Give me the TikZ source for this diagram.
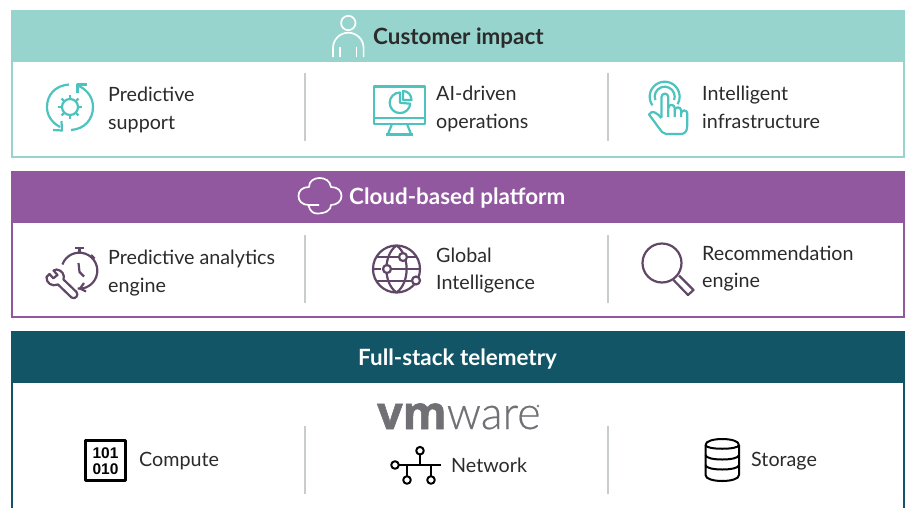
\documentclass[tikz,border=0pt]{standalone}
\usepackage{fontspec}
\setmainfont{Lato}
\newfontfamily\logofont{Open Sans}
\newfontfamily\logolight{Lato Light}
\newfontfamily\bitfont{Liberation Sans}
\usetikzlibrary{arrows.meta}
\definecolor{tealhead}{HTML}{97D4CD}
\definecolor{purphead}{HTML}{91589F}
\definecolor{darkhead}{HTML}{115566}
\definecolor{iconteal}{HTML}{4CC3BF}
\definecolor{iconpurp}{HTML}{614767}
\definecolor{divgrey}{HTML}{C8CDCC}
\definecolor{inktext}{HTML}{2B2B2B}
\definecolor{vmgrey}{HTML}{717074}
\tikzset{
  x=1pt,y=-1pt,
  panel/.style={draw,line width=2pt,fill=white},
  divider/.style={draw=divgrey,line width=2.4pt},
  lbl/.style={anchor=base west,inner sep=0pt,text=inktext,font=\fontsize{19.7}{20}\selectfont},
  ttl/.style={anchor=base west,inner sep=0pt,font=\fontsize{22.4}{22}\bfseries\selectfont},
  tealicon/.style={draw=iconteal,line width=2.2pt,line join=round,fill=none},
  purpicon/.style={draw=iconpurp,line width=2.2pt,line join=round,fill=none},
  blackicon/.style={draw=black,line width=2pt,line join=round,fill=none},
  whiteicon/.style={draw=white,line width=1.7pt,line join=round,fill=none},
  bits/.style={inner sep=0pt,anchor=base,font=\bitfont\fontsize{15.5}{16}\bfseries\selectfont},
}
\begin{document}
\begin{tikzpicture}
\useasboundingbox (0,0) rectangle (906,507);
% panels
\draw[panel,draw=tealhead] (12,40) rectangle (904,156.5);
\fill[tealhead] (11,10) rectangle (905,62);
\draw[panel,draw=purphead] (12,200) rectangle (904,316.5);
\fill[purphead] (11,171) rectangle (905,223);
\draw[panel,draw=darkhead] (12,360) rectangle (904,520);
\fill[darkhead] (11,331) rectangle (905,383);
% dividers
\foreach \xx in {305,608}{
  \draw[divider] (\xx,73) -- (\xx,141);
  \draw[divider] (\xx,235) -- (\xx,303);
  \draw[divider] (\xx,426) -- (\xx,494);
}
% titles
\node[ttl,text=inktext] (t1) at (373,44) {Customer impact};
\node[ttl,text=white] (t2) at (349,204) {Cloud-based platform};
\node[ttl,text=white] (t3) at (358,365) {Full-stack telemetry};
% labels
\node[lbl] (a1) at (108,101) {Predictive};
\node[lbl] (a2) at (108,129) {support};
\node[lbl] (b1) at (436,100) {AI-driven};
\node[lbl] (b2) at (436,128) {operations};
\node[lbl] (c1) at (702,100) {Intelligent};
\node[lbl] (c2) at (702,128) {infrastructure};
\node[lbl] (d1) at (108,264) {Predictive analytics};
\node[lbl] (d2) at (108,292) {engine};
\node[lbl] (e1) at (436,262) {Global};
\node[lbl] (e2) at (436,289) {Intelligence};
\node[lbl] (f1) at (702,260) {Recommendation};
\node[lbl] (f2) at (702,287) {engine};
\node[lbl] (g1) at (139,466) {Compute};
\node[lbl] (g2) at (451,472) {Network};
\node[lbl] (g3) at (751,466) {Storage};
% person
\draw[whiteicon] (348.3,23) circle (7.2);
\draw[whiteicon] (333,57) -- (333,48) arc[start angle=-180,end angle=0,radius=15.3] -- (363.6,57);
\draw[whiteicon] (340,47) -- (340,57) (356.5,47) -- (356.5,57);
% cloud
\draw[whiteicon] (319,205) -- (309,205)
  .. controls (302,205) and (298.5,201) .. (298.5,196)
  .. controls (298.5,191) and (302,187) .. (309,187)
  .. controls (309,181) and (314,178) .. (319.5,178)
  .. controls (325.5,178) and (330,181) .. (331,187)
  .. controls (338,187) and (341.5,191) .. (341.5,196)
  .. controls (341.5,201) and (337,205) .. (331,205)
  .. controls (331,210) and (326,213.5) .. (317,213.5)
  .. controls (313,213.5) and (310,211) .. (308.5,205.5);
% support icon
\begin{scope}
  \draw[tealicon] (69,84.5) .. controls (55,85.5) and (47,95) .. (47,107) .. controls (47,115) and (51,122) .. (60,127);
  \draw[tealicon] (53,130) -- (62,130.5) -- (61.5,121);
  \draw[tealicon] (71,130) .. controls (85,129) and (93,119) .. (93,107) .. controls (93,99) and (89,91) .. (79,86);
  \draw[tealicon] (87,84.5) -- (77.5,84.5) -- (77.5,93);
  \draw[tealicon] (70,107) circle (8);
  \foreach \a in {0,45,...,315}{
    \draw[tealicon] ([shift={(\a:8)}]70,107) -- ([shift={(\a:12)}]70,107);
  }
\end{scope}
% monitor
\draw[tealicon] (374,86.5) rectangle (425,124);
\draw[tealicon] (374,118) -- (425,118);
\draw[tealicon] (392,124) -- (388,134) (407,124) -- (411,134);
\draw[tealicon] (386,134.5) -- (413,134.5);
\draw[tealicon] (400,92.5) arc[start angle=-90,end angle=-355,radius=10.3] -- (400,102.8) -- cycle;
\draw[tealicon] (403,91) .. controls (408,91) and (411.5,95) .. (411.5,100) -- (403,100) -- cycle;
% hand
\draw[tealicon] (652.4,105.3) arc[start angle=-215,end angle=30,radius=15];
\draw[tealicon] (655.3,100.1) arc[start angle=-200,end angle=20,radius=10];
\draw[tealicon] (661.5,117.5) -- (661.5,97) arc[start angle=-180,end angle=0,radius=3.4] -- (668.3,117);
\draw[tealicon] (668.3,108) arc[start angle=-180,end angle=0,radius=3.2] -- (674.7,117);
\draw[tealicon] (674.7,110.5) arc[start angle=-180,end angle=0,radius=3.2] -- (681.1,117);
\draw[tealicon] (681.1,113.5) arc[start angle=-180,end angle=0,radius=3.1] -- (687.3,125)
     .. controls (687.3,131) and (685,134) .. (681,134) -- (666,134) -- (662,132) -- (649,114.5)
     .. controls (652,110) and (656,112) .. (661.5,118);
% stopwatch with wrench
\draw[purpicon] (62.4,264.5) arc[start angle=-160,end angle=95,radius=18];
\draw[purpicon] (75,248) -- (84,248) (79.5,248) -- (79.5,252.5);
\draw[purpicon] (91,255) -- (94.5,258.5);
\draw[purpicon] (78.5,263) -- (79.5,272) -- (84,276.5);
\draw[purpicon] (84,283) -- (80,288.5) -- (86,291.5);
\draw[purpicon] (56.5,269.5)
   .. controls (62,270) and (65,275) .. (63.5,279.5)
   -- (76.5,292) .. controls (79,295) and (75.5,300) .. (71.5,297.5)
   -- (58,284.5) .. controls (52,287) and (46,283) .. (46.5,277)
   -- (49.5,274) -- (53.3,278.3) -- (57.5,275) -- (53.5,270.5) -- cycle;
% globe
\draw[purpicon] (396.5,269) circle (23.5);
\draw[purpicon] (396.5,245.5) .. controls (383,255) and (383,283) .. (396.5,292.5);
\draw[purpicon] (396.5,245.5) .. controls (410,255) and (410,283) .. (396.5,292.5);
\draw[purpicon] (376,257) -- (398,257) (408,257) -- (416,257);
\draw[purpicon] (374,269) -- (381,269) (391,269) -- (420,269);
\draw[purpicon] (377,281) -- (411,281);
\draw[purpicon,fill=white] (403,257) circle (4);
\draw[purpicon,fill=white] (387,269) circle (4);
\draw[purpicon,fill=white] (416,280.5) circle (4);
% magnifier
\draw[purpicon] (662,263) circle (19.5);
\draw[purpicon] (673.5,280) -- (688,295) -- (693.5,290) -- (679,275.5);
% bits
\draw[blackicon,line width=2.4pt] (85.5,440.5) rectangle (125.5,480.5);
\node[bits] (bitsa) at (105.5,458) {101};
\node[bits] (bitsb) at (105.5,474) {010};
% vmware
\node[anchor=base west,inner sep=0pt,text=vmgrey] (vm) at (377,429)
  {\scalebox{.975}[1]{\fontsize{46}{46}\logofont{\bfseries\addfontfeature{FakeBold=1.2}vm}\logolight\addfontfeature{FakeBold=0.4}ware}};
\draw[vmgrey,line width=.4pt] (538,406) circle (1);
% network
\draw[blackicon] (399,465) -- (441,465);
\draw[blackicon] (420,455) -- (420,465);
\draw[blackicon] (407,465) -- (407,476) (431,465) -- (431,476);
\draw[blackicon] (395,465) circle (3.8) (420,450.7) circle (3.8) (407,480) circle (3.8) (431,480) circle (3.8);
% storage
\draw[blackicon] (705.5,445) .. controls (705.5,437) and (739,437) .. (739,445);
\draw[blackicon] (705.5,445) .. controls (705.5,450) and (739,450) .. (739,445);
\draw[blackicon] (705.5,445) -- (705.5,475) .. controls (705.5,483) and (739,483) .. (739,475) -- (739,445);
\draw[blackicon] (705.5,455) .. controls (705.5,461) and (739,461) .. (739,455);
\draw[blackicon] (705.5,465) .. controls (705.5,471) and (739,471) .. (739,465);
\end{tikzpicture}
\end{document}
